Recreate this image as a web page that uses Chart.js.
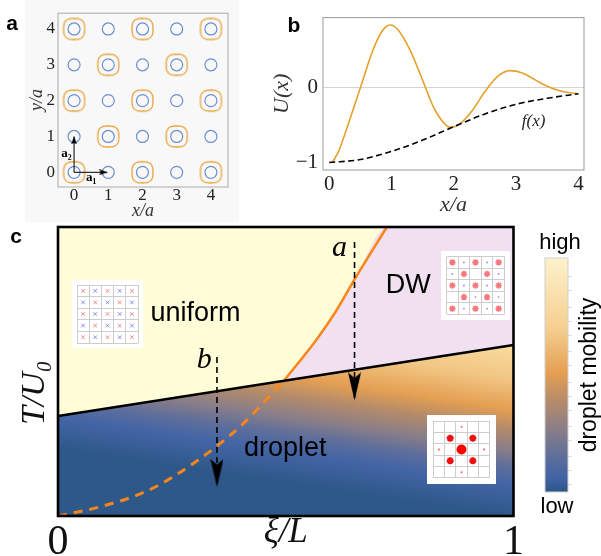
<!DOCTYPE html>
<html>
<head>
<meta charset="utf-8">
<script src="https://cdn.jsdelivr.net/npm/chart.js@4.4.1/dist/chart.umd.min.js"></script>
<style>
  body { margin: 0; width: 601px; height: 556px; position: relative; overflow: hidden; background: #fff; }
  canvas { position: absolute; }
</style>
</head>
<body>
<canvas id="chA" width="239" height="222" style="left:0;top:0"></canvas>
<canvas id="chB" width="351" height="222" style="left:250px;top:0"></canvas>
<canvas id="chC" width="530" height="334" style="left:0;top:222px"></canvas>
<canvas id="chD" width="71" height="334" style="left:530px;top:222px"></canvas>
<canvas id="insU" width="71" height="68" style="left:72px;top:280px;background:#fff"></canvas>
<canvas id="insDW" width="69" height="69" style="left:441px;top:251px;background:#fff"></canvas>
<canvas id="insDrop" width="69" height="69" style="left:427px;top:415px;background:#fff"></canvas>
<script>
// ---- panel a: lattice ----
const sites = [0, 1, 2, 3, 4];
const orangeSites = [[0,0],[2,0],[4,0],[1,1],[3,1],[0,2],[2,2],[4,2],[1,3],[3,3],[0,4],[2,4],[4,4]];
const a1Tip = [0.97, 0];
const a2Tip = [0, 1.0];
const ticksA = [0, 1, 2, 3, 4];

// ---- panel b: potential ----
const uX = [0.05, 0.15, 0.3, 0.5, 0.7, 0.85, 0.98, 1.1, 1.3, 1.5, 1.7, 1.95, 2.1, 2.3, 2.5, 2.7, 2.9, 3.1, 3.3, 3.5, 3.7, 3.9, 4.0];
const uY = [-1.0, -0.85, -0.5, 0.0, 0.5, 0.76, 0.84, 0.78, 0.5, 0.1, -0.3, -0.53, -0.48, -0.3, -0.05, 0.15, 0.23, 0.2, 0.11, 0.02, -0.04, -0.07, -0.08];
const fX = [0, 0.5, 1, 1.5, 2, 2.5, 3, 3.5, 4];
const fY = [-1, -0.96, -0.85, -0.7, -0.52, -0.35, -0.22, -0.14, -0.08];
const ticksBx = [0, 1, 2, 3, 4];
const ticksBy = [-1, 0];

// ---- panel c: phase diagram ----
const tcX = [0, 1];
const tcY = [0.346, 0.592];
const dwDashX = [0.0, 0.1, 0.2, 0.3, 0.4, 0.497];
const dwDashY = [0.0, 0.035, 0.09, 0.185, 0.31, 0.47];
const dwSolidX = [0.497, 0.567, 0.61, 0.653, 0.722];
const dwSolidY = [0.47, 0.609, 0.708, 0.824, 1.0];
const arrowA = { x: 0.651, y: [0.948, 0.40] };
const arrowB = { x: 0.349, y: [0.55, 0.10] };
const ticksC = [0, 1];

// insets (cells as [column, row], row 0 at top)
const evenCells = [[0,0],[2,0],[4,0],[1,1],[3,1],[0,2],[2,2],[4,2],[1,3],[3,3],[0,4],[2,4],[4,4]];
const oddCells = [[1,0],[3,0],[0,1],[2,1],[4,1],[1,2],[3,2],[0,3],[2,3],[4,3],[1,4],[3,4]];
const dwBlueCells = [[1,0],[3,0],[0,1],[4,1],[1,2],[3,2],[2,3],[4,3],[1,4],[3,4]];
const dropBig = [[2,2]];
const dropMid = [[1,1],[3,1],[1,3],[3,3]];
const dropSmall = [[2,0],[0,2],[4,2],[2,4]];

// colour bar
const cbTicks = [0.03, 0.09, 0.15, 0.22, 0.28, 0.35, 0.41, 0.47, 0.54, 0.60, 0.67, 0.73, 0.79, 0.86, 0.92];
const cbStops = [[0, '#2c5686'], [0.06, '#4063a5'], [0.15, '#5e6e9b'], [0.27, '#8a7e88'], [0.38, '#b28a6c'], [0.51, '#e49f52'], [0.70, '#f5cf90'], [1, '#fdf2cc']];
const regionStops = [[0, '#f9dc9e'], [0.2, '#f2c684'], [0.38, '#e49f52'], [0.5, '#b28a6c'], [0.614, '#8a7e88'], [0.72, '#5e6e9b'], [0.82, '#4465a6'], [1, '#2e5889']];

const SERIF = '"Liberation Serif", "DejaVu Serif", serif';
const SANS = '"Liberation Sans", Arial, sans-serif';
Chart.defaults.font.family = SERIF;
Chart.defaults.animation = false;
Chart.defaults.events = [];
Chart.defaults.responsive = false;
Chart.defaults.plugins.legend.display = false;
Chart.defaults.plugins.tooltip.enabled = false;

const pts = (xs, ys) => xs.map((x, i) => ({ x, y: ys[i] }));
const cellPts = cells => cells.map(([c, r]) => ({ x: c, y: r }));
const fixTicks = vals => scale => { scale.ticks = vals.map(v => ({ value: v })); };

Chart.register({
  id: 'bg',
  beforeDraw(chart, args, o) {
    if (!o.color) return;
    chart.ctx.save();
    chart.ctx.fillStyle = o.color;
    chart.ctx.fillRect(o.x0, o.y0, o.x1 - o.x0, o.y1 - o.y0);
    chart.ctx.restore();
  }
});
Chart.register({
  id: 'frame',
  afterDraw(chart, args, o) {
    if (!o.color) return;
    const { ctx, chartArea: a } = chart;
    ctx.save();
    ctx.strokeStyle = o.color;
    ctx.lineWidth = o.width;
    ctx.strokeRect(a.left, a.top, a.right - a.left, a.bottom - a.top);
    ctx.restore();
  }
});
Chart.register({
  id: 'texts',
  afterDatasetsDraw(chart, args, o) {
    const { ctx, scales } = chart;
    (o.items || []).forEach(t => {
      const x = t.px !== undefined ? t.px : scales.x.getPixelForValue(t.x);
      const y = t.py !== undefined ? t.py : scales.y.getPixelForValue(t.y);
      ctx.save();
      ctx.translate(x, y);
      ctx.rotate((t.rot || 0) * Math.PI / 180);
      ctx.font = t.font;
      ctx.fillStyle = t.color || '#000';
      ctx.textAlign = 'center';
      ctx.textBaseline = 'middle';
      ctx.fillText(t.text, 0, 0);
      ctx.restore();
    });
  }
});

function arrowHead(len, wid) {
  const c = document.createElement('canvas');
  c.width = wid;
  c.height = len * 2;
  const g = c.getContext('2d');
  g.fillStyle = '#000';
  g.beginPath();
  g.moveTo(wid / 2, len);
  g.lineTo(0, 0);
  g.lineTo(wid / 2, len * 0.2);
  g.lineTo(wid, 0);
  g.closePath();
  g.fill();
  return c;
}
// rounded-square outline used for the orange wells
function squircle(r, col, lw) {
  const s = Math.ceil(2 * r + lw + 2);
  const c = document.createElement('canvas');
  c.width = c.height = s;
  const g = c.getContext('2d');
  g.strokeStyle = col;
  g.lineWidth = lw;
  g.beginPath();
  for (let i = 0; i <= 96; i++) {
    const t = i / 96 * 2 * Math.PI;
    const ct = Math.cos(t), st = Math.sin(t);
    const x = s / 2 + r * Math.sign(ct) * Math.pow(Math.abs(ct), 0.7);
    const y = s / 2 + r * Math.sign(st) * Math.pow(Math.abs(st), 0.7);
    if (i === 0) g.moveTo(x, y); else g.lineTo(x, y);
  }
  g.closePath();
  g.stroke();
  return c;
}
const headSmall = arrowHead(8, 6);
const headBig = arrowHead(28, 13);
const wellShape = squircle(10.5, '#e9a33a', 1.3);

// ================= panel a =================
const bluePts = [];
sites.forEach(y => sites.forEach(x => bluePts.push({ x, y })));

new Chart(document.getElementById('chA'), {
  type: 'scatter',
  data: {
    datasets: [
      { data: bluePts, pointStyle: 'circle', pointRadius: 6, pointBorderWidth: 1.2,
        pointBorderColor: '#6d8fd0', pointBackgroundColor: 'transparent', order: 4 },
      { data: cellPts(orangeSites), pointStyle: wellShape, pointRadius: 10, order: 5 },
      { data: [{ x: 0, y: 0 }, { x: a1Tip[0], y: a1Tip[1] }], showLine: true, borderColor: '#000',
        borderWidth: 1, pointRadius: 0, order: 2 },
      { data: [{ x: 0, y: 0 }, { x: a2Tip[0], y: a2Tip[1] }], showLine: true, borderColor: '#000',
        borderWidth: 1, pointRadius: 0, order: 2 },
      { data: [{ x: a1Tip[0], y: a1Tip[1] }], pointStyle: headSmall, pointRadius: 1, pointRotation: -90, order: 1 },
      { data: [{ x: a2Tip[0], y: a2Tip[1] }], pointStyle: headSmall, pointRadius: 1, pointRotation: 180, order: 1 }
    ]
  },
  options: {
    layout: { padding: { left: 0, top: 10, right: 2, bottom: 0 } },
    scales: {
      x: {
        type: 'linear', min: -0.47, max: 4.5,
        afterBuildTicks: fixTicks(ticksA), afterFit: s => { s.height = 35; },
        grid: { display: false, drawTicks: false }, border: { display: false },
        ticks: { font: { size: 17, lineHeight: 1 }, color: '#222', padding: 0, maxRotation: 0 },
        title: { display: true, text: 'x/a', color: '#333', font: { size: 18, style: 'italic' }, padding: { top: 0, bottom: 0 } }
      },
      y: {
        type: 'linear', min: -0.41, max: 4.44,
        afterBuildTicks: fixTicks(ticksA), afterFit: s => { s.width = 58; },
        grid: { display: false, drawTicks: false }, border: { display: false },
        ticks: { font: { size: 17 }, color: '#222', padding: 3 },
        title: { display: true, text: 'y/a', color: '#333', font: { size: 18, style: 'italic' }, padding: { top: 26, bottom: 0 } }
      }
    },
    plugins: {
      bg: { color: '#f8f8f8', x0: 25, y0: 0, x1: 239, y1: 222 },
      frame: { color: '#aaa', width: 1 },
      texts: { items: [
        { text: 'a', px: 12, py: 24, font: 'bold 21px ' + SANS },
        { text: 'a₁', x: 0.5, y: -0.16, font: 'bold 13px ' + SERIF },
        { text: 'a₂', x: -0.22, y: 0.52, font: 'bold 13px ' + SERIF }
      ] }
    }
  }
});

// ================= panel b =================
new Chart(document.getElementById('chB'), {
  type: 'line',
  data: {
    datasets: [
      { data: pts(uX, uY), borderColor: '#e5a12c', borderWidth: 1.6, pointRadius: 0,
        cubicInterpolationMode: 'monotone', fill: false, order: 2 },
      { data: pts(fX, fY), borderColor: '#000', borderWidth: 1.6, borderDash: [6, 3.5], pointRadius: 0,
        cubicInterpolationMode: 'monotone', fill: false, order: 1 }
    ]
  },
  options: {
    layout: { padding: { left: 0, top: 9, right: 17, bottom: 0 } },
    scales: {
      x: {
        type: 'linear', min: -0.1, max: 4.09,
        afterBuildTicks: fixTicks(ticksBx), afterFit: s => { s.height = 52; },
        grid: { display: false, drawTicks: false }, border: { display: false },
        ticks: { font: { size: 21, lineHeight: 1 }, color: '#222', padding: 4, maxRotation: 0 },
        title: { display: true, text: 'x/a', color: '#333', font: { size: 22, style: 'italic' }, padding: { top: 0, bottom: 4 } }
      },
      y: {
        type: 'linear', min: -1.1, max: 0.94,
        afterBuildTicks: fixTicks(ticksBy), afterFit: s => { s.width = 73; },
        grid: { drawTicks: false, color: c => (c.tick && c.tick.value === 0 ? '#d4d4d4' : 'transparent') },
        border: { display: false },
        ticks: { font: { size: 21 }, color: '#222', padding: 5, callback: v => (v < 0 ? '−' + Math.abs(v) : String(v)) },
        title: { display: true, text: 'U(x)', color: '#333', font: { size: 22, style: 'italic' }, padding: { top: 19, bottom: 0 } }
      }
    },
    plugins: {
      frame: { color: '#999', width: 1 },
      texts: { items: [
        { text: 'b', px: 44, py: 26, font: 'bold 21px ' + SANS },
        { text: 'f(x)', x: 3.28, y: -0.45, font: 'italic 17px ' + SERIF, color: '#222' }
      ] }
    }
  }
});

// ================= panel c =================
const grad0 = [1, 0.592];
const grad1 = [0.9455, 0.013];
function regionGradient(c) {
  const ch = c.chart;
  const sx = ch.scales.x, sy = ch.scales.y;
  if (!ch.chartArea || !sx || !sy) return '#4465a6';
  const g = ch.ctx.createLinearGradient(sx.getPixelForValue(grad0[0]), sy.getPixelForValue(grad0[1]),
    sx.getPixelForValue(grad1[0]), sy.getPixelForValue(grad1[1]));
  regionStops.forEach(([p, col]) => g.addColorStop(p, col));
  return g;
}
const tcPts = pts(tcX, tcY);
const dwRegion = pts(dwSolidX, dwSolidY).concat([{ x: 1, y: 1 }]);

new Chart(document.getElementById('chC'), {
  type: 'line',
  data: {
    datasets: [
      // 0: black transition line
      { data: tcPts, borderColor: '#000', borderWidth: 2.6, pointRadius: 0, fill: false, order: 3 },
      // 1: uniform region
      { data: tcPts, borderWidth: 0, pointRadius: 0, fill: 'end', backgroundColor: '#fefdd7', order: 10 },
      // 2: droplet region (mobility gradient)
      { data: tcPts, borderWidth: 0, pointRadius: 0, fill: 'start', backgroundColor: regionGradient, order: 9 },
      // 3: DW region
      { data: dwRegion, borderWidth: 0, pointRadius: 0, cubicInterpolationMode: 'monotone',
        fill: 1, backgroundColor: '#f1e0ef', order: 8 },
      // 4: dashed orange
      { data: pts(dwDashX, dwDashY), borderColor: '#f7861b', borderWidth: 3, borderDash: [9, 7],
        pointRadius: 0, cubicInterpolationMode: 'monotone', fill: false, order: 5 },
      // 5: solid orange
      { data: pts(dwSolidX, dwSolidY), borderColor: '#f7861b', borderWidth: 2.6, pointRadius: 0,
        cubicInterpolationMode: 'monotone', fill: false, order: 4 },
      // 6, 7: arrows
      { data: [{ x: arrowA.x, y: arrowA.y[0] }, { x: arrowA.x, y: arrowA.y[1] }], borderColor: '#000',
        borderWidth: 1.6, borderDash: [6, 4], pointRadius: 0, fill: false, order: 2 },
      { data: [{ x: arrowB.x, y: arrowB.y[0] }, { x: arrowB.x, y: arrowB.y[1] }], borderColor: '#000',
        borderWidth: 1.6, borderDash: [6, 4], pointRadius: 0, fill: false, order: 2 },
      { data: [{ x: arrowA.x, y: arrowA.y[1] }, { x: arrowB.x, y: arrowB.y[1] }], showLine: false,
        pointStyle: headBig, pointRadius: 1, fill: false, order: 1 }
    ]
  },
  options: {
    layout: { padding: { left: 0, top: 5, right: 11, bottom: 0 } },
    scales: {
      x: {
        type: 'linear', min: 0, max: 1,
        afterBuildTicks: fixTicks(ticksC), afterFit: s => { s.height = 40; },
        grid: { display: false, drawTicks: false }, border: { display: false },
        ticks: { font: { size: 42, lineHeight: 1 }, color: '#111', padding: 6, maxRotation: 0 },
        title: { display: true, text: 'ξ/L', color: '#111', font: { size: 35, style: 'italic' }, padding: { top: 0, bottom: 2 } }
      },
      y: {
        type: 'linear', min: 0, max: 1,
        afterFit: s => { s.width = 58; },
        grid: { display: false, drawTicks: false }, border: { display: false },
        ticks: { display: false },
        title: { display: true, text: 'T/U₀     ', color: '#111', font: { size: 34, style: 'italic' }, padding: { top: 15, bottom: 0 } }
      }
    },
    plugins: {
      frame: { color: '#000', width: 2.6 },
      texts: { items: [
        { text: 'c', px: 16, py: 15, font: 'bold 21px ' + SANS },
        { text: 'uniform', x: 0.302, y: 0.70, font: '27px ' + SANS },
        { text: 'DW', x: 0.769, y: 0.797, font: '27px ' + SANS },
        { text: 'droplet', x: 0.499, y: 0.235, font: '27px ' + SANS },
        { text: 'a', x: 0.618, y: 0.927, font: 'italic 30px ' + SERIF },
        { text: 'b', x: 0.321, y: 0.54, font: 'italic 30px ' + SERIF }
      ] }
    }
  }
});

// ================= insets =================
const cellLines = [-0.5, 0.5, 1.5, 2.5, 3.5, 4.5];
function inset(id, sets) {
  new Chart(document.getElementById(id), {
    type: 'scatter',
    data: {
      datasets: sets.map(s => ({
        data: cellPts(s.cells), pointStyle: s.style, pointRadius: s.r, pointBorderWidth: s.w,
        pointBorderColor: s.color, pointBackgroundColor: s.fill || 'transparent'
      }))
    },
    options: {
      layout: { padding: 0 },
      scales: {
        x: { min: -0.5, max: 4.5, afterBuildTicks: fixTicks(cellLines), afterFit: s => { s.height = 0; },
          ticks: { display: false }, grid: { color: '#cdcdcd', drawTicks: false }, border: { display: false } },
        y: { min: -0.5, max: 4.5, reverse: true, afterBuildTicks: fixTicks(cellLines), afterFit: s => { s.width = 0; },
          ticks: { display: false }, grid: { color: '#cdcdcd', drawTicks: false }, border: { display: false } }
      }
    }
  });
}
inset('insU', [
  { cells: evenCells, style: 'crossRot', r: 2.6, w: 1, color: 'rgba(235,50,60,0.55)' },
  { cells: oddCells, style: 'crossRot', r: 2.6, w: 1, color: 'rgba(50,60,235,0.55)' }
]);
inset('insDW', [
  { cells: evenCells, style: 'star', r: 3.2, w: 1.6, color: 'rgba(240,30,40,0.6)' },
  { cells: dwBlueCells, style: 'circle', r: 0.9, w: 0, color: 'rgba(60,60,230,0.6)', fill: 'rgba(60,60,230,0.6)' }
]);
inset('insDrop', [
  { cells: dropBig, style: 'circle', r: 5, w: 0, color: '#f00', fill: '#f00' },
  { cells: dropMid, style: 'star', r: 3.5, w: 2.2, color: '#f01010' },
  { cells: dropSmall, style: 'circle', r: 0.9, w: 0, color: '#f44', fill: '#f44' }
]);

// ================= colour bar =================
new Chart(document.getElementById('chD'), {
  type: 'bar',
  data: {
    labels: [''],
    datasets: [{
      data: [1], borderWidth: 0, barPercentage: 1, categoryPercentage: 1,
      backgroundColor: c => {
        const a = c.chart.chartArea;
        if (!a) return '#e49f52';
        const g = c.chart.ctx.createLinearGradient(0, a.bottom, 0, a.top);
        cbStops.forEach(([p, col]) => g.addColorStop(p, col));
        return g;
      }
    }]
  },
  options: {
    layout: { padding: { left: 15, top: 36, bottom: 64, right: 28 } },
    scales: {
      x: { display: false },
      y: {
        position: 'right', min: 0, max: 1,
        afterBuildTicks: fixTicks(cbTicks), afterFit: s => { s.width = 5; },
        ticks: { display: false },
        grid: { drawOnChartArea: false, drawTicks: true, tickLength: 4, color: '#dcdcdc' },
        border: { display: false }
      }
    },
    plugins: {
      frame: { color: '#d0d0d0', width: 1 },
      texts: { items: [
        { text: 'high', px: 30, py: 21, font: '22px ' + SANS },
        { text: 'low', px: 27, py: 285, font: '22px ' + SANS },
        { text: 'droplet mobility', px: 60, py: 153, rot: -90, font: '23px ' + SANS }
      ] }
    }
  }
});
</script>
</body>
</html>
